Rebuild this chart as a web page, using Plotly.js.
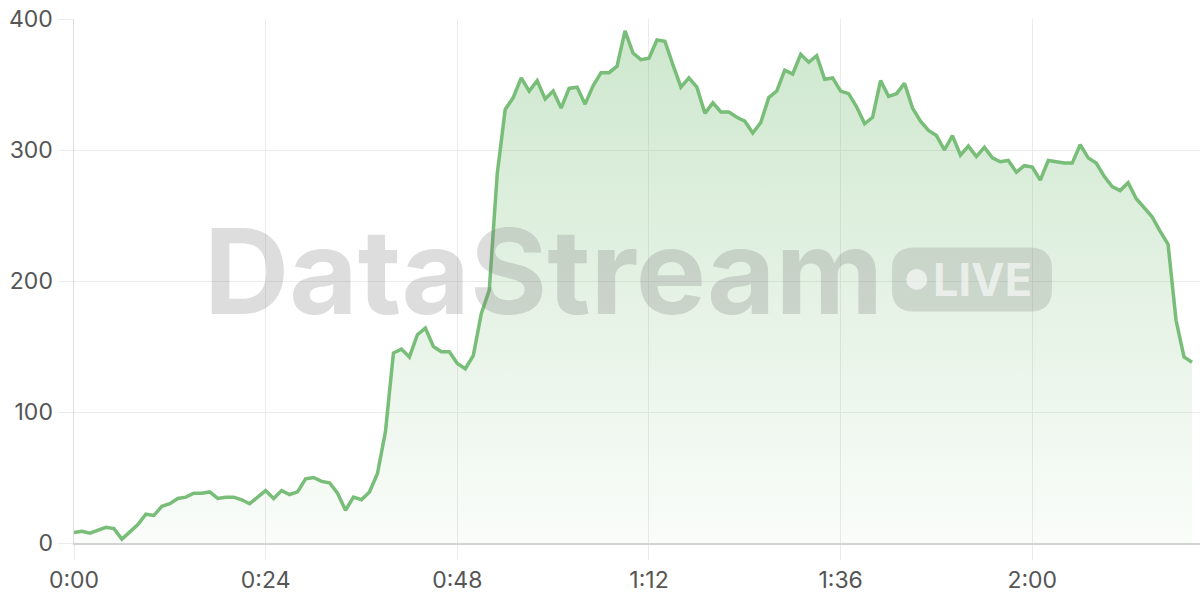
<!DOCTYPE html>
<html>
<head>
<meta charset="utf-8">
<script src="https://cdn.plot.ly/plotly-3.0.1.min.js"></script>
<style>
  html, body { margin: 0; padding: 0; background: #ffffff; }
  #chart { width: 1200px; height: 600px; }
</style>
</head>
<body>
<div id="chart"></div>
<script>
// elapsed minutes
const minutes = [0,1,2,3,4,5,6,7,8,9,10,11,12,13,14,15,16,17,18,19,20,21,22,23,24,25,26,27,28,29,
  30,31,32,33,34,35,36,37,38,39,40,41,42,43,44,45,46,47,48,49,50,51,52,53,54,55,56,57,58,59,
  60,61,62,63,64,65,66,67,68,69,70,71,72,73,74,75,76,77,78,79,80,81,82,83,84,85,86,87,88,89,
  90,91,92,93,94,95,96,97,98,99,100,101,102,103,104,105,106,107,108,109,110,111,112,113,114,115,116,117,118,119,
  120,121,122,123,124,125,126,127,128,129,130,131,132,133,134,135,136,137,138,139,140];

const viewers = [8,9,7.5,10,12,11,3,8.5,14,22,
  21,28,30,34,35,38,38,39,34,35,
  35,33,30,35,40,34,40,37,39,49,
  50,47,46,38,25,35,33,39,53,85,
  145,148,142,159,164,150,146,146,137,133,
  143,175,193,282,331,340,355,345,353,339,
  345,332,347,348,335,349,359,359,364,391,
  374,369,370,384,383,365,348,355,348,328,
  336,329,329,325,322,313,321,340,345,361,
  358,373,367,372,354,355,345,343,333,320,
  325,353,341,343,351,332,322,315,311,300,
  311,296,303,295,302,294,291,292,283,288,
  287,277,292,291,290,290,304,294,290,280,
  272,269,275,263,256,249,238,228,170,142,138];

const xTickVals = [0,24,48,72,96,120];
const xTickText = ['0:00','0:24','0:48','1:12','1:36','2:00'];
const yTickVals = [0,100,200,300,400];

const lineColor = 'rgb(120,189,120)';
const fontFamily = 'Inter, "Open Sans", sans-serif';

const trace = {
  x: minutes,
  y: viewers,
  type: 'scatter',
  mode: 'lines',
  line: { color: lineColor, width: 3.5, shape: 'linear' },
  fill: 'tozeroy',
  fillgradient: {
    type: 'vertical',
    start: 0,
    stop: 400,
    colorscale: [[0, 'rgba(120,189,120,0.04)'], [1, 'rgba(120,189,120,0.37)']]
  },
  hoverinfo: 'skip'
};

const gridCol = '#ebebeb';

const layout = {
  width: 1200,
  height: 600,
  margin: { l: 74, r: 0, t: 19, b: 57, pad: 0 },
  paper_bgcolor: '#ffffff',
  plot_bgcolor: '#ffffff',
  showlegend: false,
  font: { family: fontFamily, size: 23, color: '#555555' },
  xaxis: {
    range: [0, 141],
    tickmode: 'array',
    tickvals: xTickVals,
    ticktext: xTickText,
    showgrid: true,
    gridcolor: gridCol,
    gridwidth: 1,
    zeroline: false,
    showline: true,
    linecolor: '#d2d2d2',
    linewidth: 2,
    ticks: 'outside',
    ticklen: 15,
    tickcolor: gridCol,
    tickwidth: 1,
    tickfont: { family: fontFamily, size: 23, color: '#555555' },
    fixedrange: true
  },
  yaxis: {
    range: [0, 400],
    tickmode: 'array',
    tickvals: yTickVals,
    showgrid: true,
    gridcolor: gridCol,
    gridwidth: 1,
    zeroline: false,
    showline: true,
    linecolor: '#dcdcdc',
    linewidth: 1.5,
    ticks: 'outside',
    ticklen: 15,
    tickcolor: gridCol,
    tickwidth: 1,
    tickfont: { family: fontFamily, size: 23, color: '#555555' },
    fixedrange: true
  },
  shapes: [
    {
      type: 'path',
      xref: 'paper', yref: 'paper',
      xsizemode: 'pixel', ysizemode: 'pixel',
      xanchor: 0.7975, yanchor: 0.503,
      path: 'M -58 -32 L 58 -32 Q 80 -32 80 -10 L 80 10 Q 80 32 58 32 L -58 32 Q -80 32 -80 10 L -80 -10 Q -80 -32 -58 -32 Z',
      fillcolor: 'rgba(120,120,120,0.22)',
      line: { width: 0 },
      layer: 'above'
    },
    {
      type: 'circle',
      xref: 'paper', yref: 'paper',
      xsizemode: 'pixel', ysizemode: 'pixel',
      xanchor: 0.7484, yanchor: 0.503,
      x0: -10.5, x1: 10.5, y0: -10.5, y1: 10.5,
      fillcolor: 'rgba(255,255,255,0.6)',
      line: { width: 0 },
      layer: 'above'
    }
  ],
  annotations: [
    {
      text: '<b>DataStream</b>',
      xref: 'paper', yref: 'paper',
      x: 0.417, y: 0.519,
      xanchor: 'center', yanchor: 'middle',
      showarrow: false,
      font: { family: fontFamily, size: 118, color: 'rgba(120,120,120,0.25)' }
    },
    {
      text: '<b>LIVE</b>',
      xref: 'paper', yref: 'paper',
      x: 0.8064, y: 0.503,
      xanchor: 'center', yanchor: 'middle',
      showarrow: false,
      font: { family: fontFamily, size: 45, color: 'rgba(255,255,255,0.6)' }
    }
  ]
};

Plotly.newPlot('chart', [trace], layout, { staticPlot: true, displayModeBar: false });
</script>
</body>
</html>
